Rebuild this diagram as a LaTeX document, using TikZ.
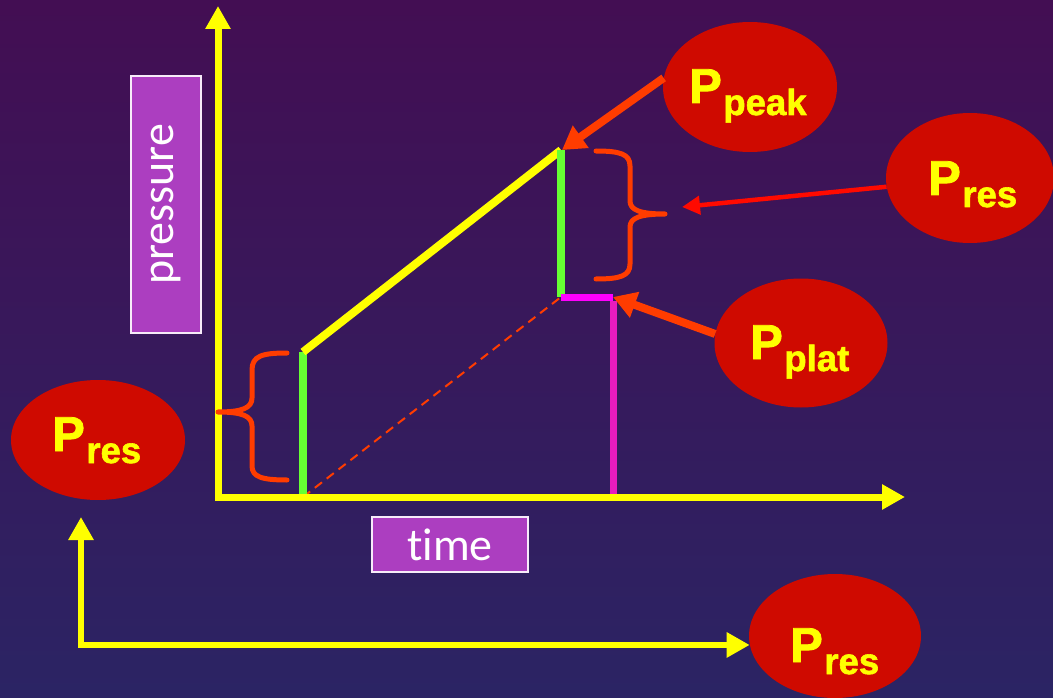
\documentclass[tikz,border=0pt]{standalone}
\usepackage{fontspec}
\setmainfont{Liberation Sans}
\newfontfamily\calib[Ligatures=NoCommon]{Carlito}
\newfontfamily\heavy[FakeBold=1.6]{Liberation Sans Bold}
\usetikzlibrary{arrows.meta,shapes.geometric}
\definecolor{bgtop}{HTML}{430E53}
\definecolor{bgbot}{HTML}{2B2464}
\definecolor{ayellow}{HTML}{FFFF00}
\definecolor{agreen}{HTML}{66FF33}
\definecolor{amag}{HTML}{FF00FF}
\definecolor{amagv}{HTML}{E81CBE}
\definecolor{bracec}{HTML}{FF3C00}
\definecolor{pred}{HTML}{CF0A00}
\definecolor{arrred}{HTML}{FF0A00}
\definecolor{boxfill}{HTML}{AC3EC0}
\newcommand\Plab[1]{{\heavy\fontsize{49}{49}\selectfont P}\hspace{1.5pt}\raisebox{-12pt}{\heavy\fontsize{36.5}{36.5}\selectfont #1}}
\tikzset{yhead/.tip={Triangle[length=23pt,width=24pt]}}
\begin{document}
\begin{tikzpicture}[x=1pt,y=-1pt,
  blob/.style={ellipse,fill=pred,draw=none,inner sep=0pt},
  ptext/.style={anchor=base west,inner sep=0pt,text=ayellow},
  labbox/.style={draw=white!90!boxfill,line width=1.8pt,fill=boxfill,text=white,inner sep=0pt,font=\calib\fontsize{46}{46}\selectfont},
  axis/.style={draw=ayellow,line width=7pt,line join=miter},
  oarrow/.style={draw=bracec,line width=8pt,-{Triangle[length=23pt,width=26pt]}},
  rarrow/.style={draw=arrred,line width=4.5pt,-{Triangle[length=18pt,width=18pt]}},
  bracepath/.style={draw=bracec,line width=5pt,line cap=round,line join=round},
  glin/.style={draw=agreen,line width=7.5pt},
  mlin/.style={line width=7pt}
]
\useasboundingbox (0,0) rectangle (1053,698);
\shade[top color=bgtop,bottom color=bgbot] (0,0) rectangle (1053,698);

% coordinates of the curve
\coordinate (O) at (218,497);
\coordinate (Ytip) at (218,6);
\coordinate (Xtip) at (905,497);
\coordinate (A) at (303,495);
\coordinate (A0) at (303,497);
\coordinate (B) at (303,352);
\coordinate (C) at (561,150);
\coordinate (D) at (561,297);
\coordinate (E) at (613,297);
\coordinate (F) at (613,495);

% labels boxes
\node[labbox,rotate=90,minimum width=257pt,minimum height=70pt] (pbox) at (166,204.5) {pressure};
\node[labbox,minimum width=156pt,minimum height=55pt] (tbox) at (450,544.5) {time};

% dashed line
\draw[draw=bracec,line width=2pt,dash pattern=on 9pt off 6pt] (A0) -- (D);

% curve
\draw[glin] (A) -- (B);
\draw[draw=ayellow,line width=8pt] (B) -- (C);
\draw[glin] (C) -- (D);
\draw[draw=amag,mlin] (D) -- (E);
\draw[draw=amagv,mlin] ([yshift=-3.5pt]E) -- (F);

% axes
\draw[axis,yhead-yhead] (Ytip) -- (O) -- (Xtip);

% braces
\draw[bracepath] (287,353) .. controls (262,353) and (252,356) .. (252,370) -- (252,398)
  .. controls (252,408) and (242,412) .. (218,412)
  .. controls (242,412) and (252,416) .. (252,426) -- (252,466)
  .. controls (252,477) and (262,480) .. (287,480);
\draw[bracepath] (596,151) .. controls (620,151) and (630,154) .. (630,166) -- (630,201)
  .. controls (630,210) and (640,214) .. (665,214)
  .. controls (640,214) and (630,218) .. (630,227) -- (630,264)
  .. controls (630,276) and (620,279) .. (596,279);

% ellipses
\node[blob,minimum width=174pt,minimum height=130pt] (peak) at (750,87) {};
\node[blob,minimum width=168pt,minimum height=130pt] (resr) at (970,178) {};
\node[blob,minimum width=173pt,minimum height=129pt] (plat) at (801,343) {};
\node[blob,minimum width=174pt,minimum height=120pt] (resl) at (98,440) {};
\node[blob,minimum width=172pt,minimum height=124pt] (resb) at (835,636) {};

\node[ptext] (tpeak) at (689,103) {\Plab{peak}};
\node[ptext] (tresr) at (928,195) {\Plab{res}};
\node[ptext] (tplat) at (750,359) {\Plab{plat}};
\node[ptext] (tresl) at (52,451) {\Plab{res}};
\node[ptext] (tresb) at (790,662) {\Plab{res}};

% arrows
\coordinate (peaktip) at (562,150);
\coordinate (restip) at (682,207);
\coordinate (plattip) at (613,297);
\coordinate (uptip) at (81,517);
\draw[oarrow] (peak.174) -- (peaktip);
\draw[rarrow] (resr.186) -- (restip);
\draw[oarrow] (plat.174) -- (plattip);
\draw[axis,line width=6.5pt,yhead-yhead] (uptip) |- (resb.186);
\end{tikzpicture}
\end{document}
